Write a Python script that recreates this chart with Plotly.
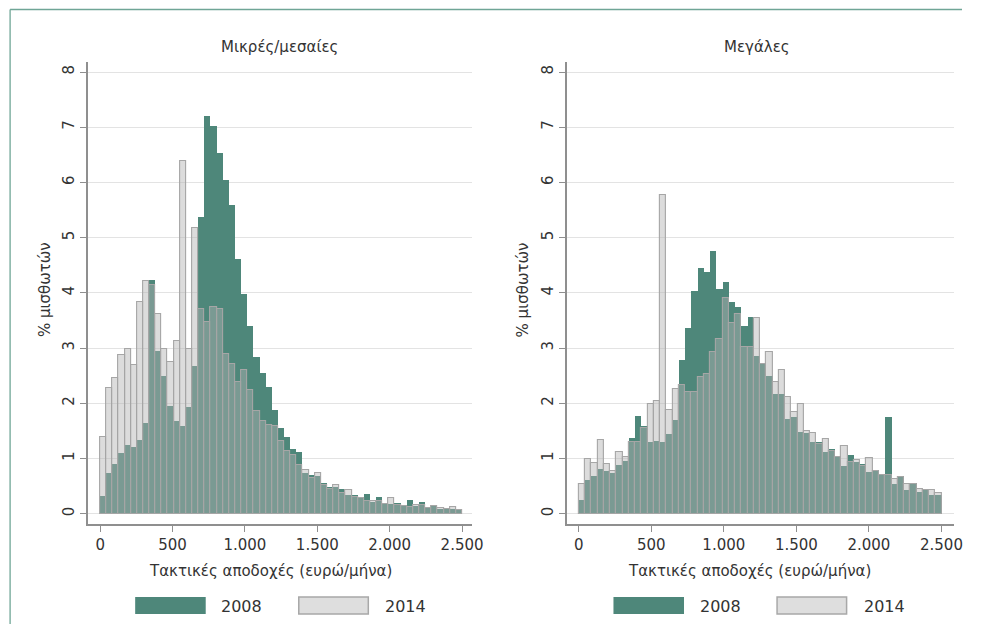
import plotly.graph_objects as go

# ---------------- data (% of employees per earnings bin) ----------------
panel_titles = ["Μικρές/μεσαίες", "Μεγάλες"]
series_names = ["2008", "2014"]
x_max = 2500
bins_small = 59
bins_large = 58

small_2008 = [0.32, 0.74, 0.90, 1.10, 1.24, 1.20, 1.33, 1.64, 4.23, 2.95,
              2.49, 1.95, 1.68, 1.59, 1.93, 2.68, 5.37, 7.20, 7.02, 6.53,
              6.04, 5.59, 4.61, 3.98, 3.40, 2.84, 2.55, 2.29, 1.88, 1.55,
              1.39, 1.17, 1.12, 0.74, 0.70, 0.68, 0.56, 0.48, 0.48, 0.45,
              0.34, 0.34, 0.30, 0.36, 0.21, 0.30, 0.18, 0.18, 0.19, 0.16,
              0.25, 0.14, 0.21, 0.10, 0.16, 0.08, 0.08, 0.08, 0.07]
small_2014 = [1.39, 2.28, 2.45, 2.88, 2.99, 2.69, 3.83, 4.22, 4.14, 3.61,
              2.99, 2.75, 3.12, 6.39, 2.98, 5.18, 3.71, 3.47, 3.74, 3.71,
              2.89, 2.71, 2.39, 2.60, 2.24, 1.86, 1.68, 1.61, 1.58, 1.32,
              1.14, 1.06, 0.88, 0.79, 0.65, 0.74, 0.52, 0.45, 0.52, 0.37,
              0.43, 0.30, 0.28, 0.23, 0.23, 0.23, 0.18, 0.28, 0.15, 0.14,
              0.12, 0.16, 0.16, 0.10, 0.14, 0.10, 0.08, 0.12, 0.07]
large_2008 = [0.25, 0.61, 0.68, 0.81, 0.77, 0.74, 0.88, 0.95, 1.37, 1.77,
              1.59, 1.30, 1.32, 1.30, 1.44, 1.70, 2.78, 3.36, 4.03, 4.45,
              4.38, 4.76, 4.07, 4.20, 3.83, 3.74, 3.40, 3.56, 2.86, 2.73,
              2.49, 2.17, 2.17, 1.72, 1.76, 1.48, 1.47, 1.29, 1.29, 1.12,
              1.17, 1.05, 0.87, 1.06, 0.93, 0.90, 0.75, 0.79, 0.72, 1.75,
              0.54, 0.68, 0.43, 0.56, 0.40, 0.45, 0.33, 0.34]
large_2014 = [0.54, 0.99, 0.92, 1.34, 0.90, 0.77, 1.12, 1.03, 1.30, 1.30,
              1.55, 1.99, 2.05, 5.78, 1.87, 2.26, 2.33, 2.20, 2.20, 2.48,
              2.53, 2.93, 3.16, 3.91, 3.45, 3.62, 3.02, 3.02, 3.54, 2.71,
              2.93, 2.39, 2.60, 2.12, 1.85, 1.99, 1.50, 1.47, 1.27, 1.36,
              1.14, 1.03, 1.23, 0.94, 0.98, 0.86, 1.00, 0.78, 0.70, 0.70,
              0.63, 0.66, 0.54, 0.54, 0.45, 0.43, 0.43, 0.37]

x_tickvals = [0, 500, 1000, 1500, 2000, 2500]
x_ticktext = ["0", "500", "1.000", "1.500", "2.000", "2.500"]
y_tickvals = [0, 1, 2, 3, 4, 5, 6, 7, 8]
x_title = "Τακτικές αποδοχές (ευρώ/μήνα)"
y_title = "% μισθωτών"

# ---------------- styling ----------------
PAGE_W, PAGE_H = 981, 632
OFF = 8  # page body margin
W, H = PAGE_W - 2 * OFF, PAGE_H - 2 * OFF
SX = 0.988  # observed horizontal rendering factor
FONT = "DejaVu Sans"
TXT = "#333333"
TEAL = "#4e877a"
GRAY_FILL = "rgba(178,178,178,0.45)"
GRAY_LINE = "#a6a6a6"
AX = "#8f8f8f"
GRID = "#e3e3e3"


def px(x):
    return (x / SX - OFF) / W


def py(y):
    return 1 - (y - OFF) / H


fig = go.Figure()

panels = [
    dict(v08=small_2008, v14=small_2014, n=bins_small, xa="x", ya="y",
         dom=(88, 472), x0px=100.0, x2500px=461.7),
    dict(v08=large_2008, v14=large_2014, n=bins_large, xa="x2", ya="y2",
         dom=(566.5, 953), x0px=578.3, x2500px=940.8),
]

y0px, y8px = 513.7, 72.0
ytop, ybot = 62, 524
yppu = (y0px - y8px) / 8
yrange = [(y0px - ybot) / yppu, (y0px - ytop) / yppu]

layout_axes = {}
for i, p in enumerate(panels):
    w = x_max / p["n"]
    centers = [w * (k + 0.5) for k in range(p["n"])]
    fig.add_trace(go.Bar(x=centers, y=p["v08"], width=w, name=series_names[0],
                         marker=dict(color=TEAL, line=dict(width=0)),
                         xaxis=p["xa"], yaxis=p["ya"], showlegend=False))
    fig.add_trace(go.Bar(x=centers, y=p["v14"], width=w, name=series_names[1],
                         marker=dict(color=GRAY_FILL,
                                     line=dict(color=GRAY_LINE, width=1.1)),
                         xaxis=p["xa"], yaxis=p["ya"], showlegend=False))
    ppu = (p["x2500px"] - p["x0px"]) / x_max
    xr = [(p["dom"][0] - p["x0px"]) / ppu, (p["dom"][1] - p["x0px"]) / ppu]
    sfx = "" if i == 0 else str(i + 1)
    layout_axes["xaxis" + sfx] = dict(
        domain=[px(p["dom"][0]), min(1.0, px(p["dom"][1]))], range=xr,
        anchor="y" + sfx, tickvals=x_tickvals, ticktext=x_ticktext,
        ticks="outside", ticklen=6, tickcolor=AX, tickwidth=1.3,
        showline=True, linecolor=AX, linewidth=1.5, showgrid=False,
        zeroline=False, tickfont=dict(family=FONT, size=15, color=TXT))
    layout_axes["yaxis" + sfx] = dict(
        domain=[py(ybot), py(ytop)], range=yrange, anchor="x" + sfx,
        tickvals=y_tickvals, ticks="outside", ticklen=6, tickcolor=AX,
        tickwidth=1.3, showline=True, linecolor=AX, linewidth=1.5,
        showgrid=True, gridcolor=GRID, gridwidth=1.3, zeroline=False,
        tickangle=-90, tickfont=dict(family=FONT, size=15, color=TXT))

annotations = []
shapes = []
title_x = [279, 756]
xt_x = [270.5, 748.5]
yt_x = [45, 523]
leg_off = [0, 478]
for i in range(2):
    annotations.append(dict(text=panel_titles[i], x=px(title_x[i]), y=py(47),
                            xref="paper", yref="paper", showarrow=False,
                            xanchor="center", yanchor="middle",
                            font=dict(family=FONT, size=15, color=TXT)))
    annotations.append(dict(text=x_title, x=px(xt_x[i]), y=py(571),
                            xref="paper", yref="paper", showarrow=False,
                            xanchor="center", yanchor="middle",
                            font=dict(family=FONT, size=15, color=TXT)))
    annotations.append(dict(text=y_title, x=px(yt_x[i]), y=py(290),
                            xref="paper", yref="paper", showarrow=False,
                            xanchor="center", yanchor="middle", textangle=-90,
                            font=dict(family=FONT, size=15, color=TXT)))
    o = leg_off[i]
    shapes.append(dict(type="rect", xref="paper", yref="paper",
                       x0=px(135 + o), x1=px(205.5 + o), y0=py(614), y1=py(597),
                       fillcolor=TEAL, line=dict(width=0)))
    shapes.append(dict(type="rect", xref="paper", yref="paper",
                       x0=px(298.5 + o), x1=px(368 + o), y0=py(614), y1=py(597),
                       fillcolor="#dedede", line=dict(color="#a8a8a8", width=1.5)))
    annotations.append(dict(text=series_names[0], x=px(219 + o), y=py(606),
                            xref="paper", yref="paper", showarrow=False,
                            xanchor="left", yanchor="middle",
                            font=dict(family=FONT, size=16, color=TXT)))
    annotations.append(dict(text=series_names[1], x=px(383 + o), y=py(606),
                            xref="paper", yref="paper", showarrow=False,
                            xanchor="left", yanchor="middle",
                            font=dict(family=FONT, size=16, color=TXT)))

# outer frame lines (top and left)
shapes.append(dict(type="line", xref="paper", yref="paper", x0=px(10), x1=1,
                   y0=py(9.5), y1=py(9.5), line=dict(color="#6fa596", width=1.3)))
shapes.append(dict(type="line", xref="paper", yref="paper", x0=px(10), x1=px(10),
                   y0=py(9.5), y1=0, line=dict(color="#6fa596", width=1.3)))

fig.update_layout(width=W, height=H, autosize=False,
                  margin=dict(l=0, r=0, t=0, b=0),
                  paper_bgcolor="white", plot_bgcolor="white",
                  barmode="overlay", bargap=0, showlegend=False,
                  annotations=annotations, shapes=shapes, **layout_axes)

fig.write_html("out.html")
